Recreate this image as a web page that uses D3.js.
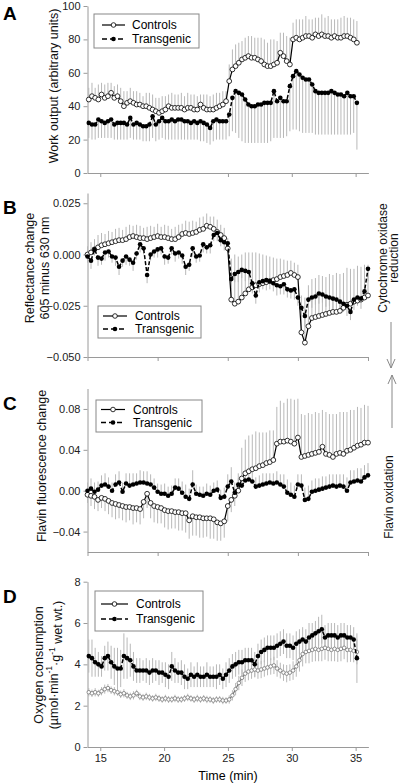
<!DOCTYPE html>
<html><head><meta charset="utf-8">
<script src="https://cdn.jsdelivr.net/npm/d3@7"></script>
<style>body{margin:0;background:#fff}svg{display:block}text{font-family:'Liberation Sans',Arial,sans-serif}</style>
</head><body><script>
// ---------- DATA ----------
// sampling grids (minutes)
const timesAD = d3.range(85).map(i => 14.1 + i * 0.25);
const timesBC = d3.range(81).map(i => 15 + i * 0.25);

// Panel A: work output (arbitrary units)
const aControls = [44,46,45,44,47,45,46,48,45,46, 43,40,42,43,42,41,41,40,40,39, 38,37,36,37,38,40,39,39,39,39, 38,39,39,38,38,41,39,38,38,38, 39,40,41,43,55,62,64,66,68,69, 70,69,69,68,67,65,64,64,65,66, 72,70,67,65,80,81,80,81,82,82, 81,83,82,83,82,82,81,82,81,81, 82,82,81,80,78];
const aControlsErr = [7,8,6,9,7,8,8,6,7,7, 8,9,7,8,7,8,7,6,8,9, 9,8,9,9,8,7,9,8,8,9, 8,9,8,9,8,6,8,9,8,9, 9,8,8,6,10,12,13,12,11,12, 12,13,12,13,14,15,14,16,15,13, 12,14,15,16,10,11,12,11,12,10, 11,10,11,12,11,12,11,10,11,12, 12,11,12,12,13];
const aTrans = [30,29,29,32,31,30,31,32,29,30, 30,30,29,33,29,30,29,28,28,29, 34,29,31,33,31,31,32,31,32,32, 31,31,30,31,30,31,30,29,27,31, 32,31,31,31,35,45,49,48,47,44, 41,40,40,41,41,42,42,42,49,43, 45,43,43,52,58,61,59,57,56,56, 53,49,48,48,48,48,49,48,47,47, 46,48,46,46,42];
const aTransErr = [9,9,9,11,10,9,10,11,9,10, 10,10,9,12,9,10,9,9,9,10, 13,10,11,12,11,11,12,11,12,12, 11,11,10,11,10,12,11,11,10,12, 12,11,11,11,13,20,25,27,28,26, 23,22,22,23,23,24,24,23,28,22, 24,22,21,27,32,35,34,33,32,32, 29,26,25,25,25,25,26,25,24,24, 23,25,23,22,28];

// Panel B: reflectance change 605-630 nm (x 10^-3)
const bControls = [0,1,2.5,3.5,4.5,5,5.5,6,6.5,7, 7,7.5,8.5,9,8.5,8,8,7.5,8,8.5, 9,8.5,8.5,8,7.5,7.5,8.5,10,10.5,10, 10.5,11,12,12.5,14,13.5,12.5,11,9.5,8, 3,-22,-24,-23,-21,-19,-17,-16,-15,-14.5, -14,-13.5,-13,-12.5,-12,-11,-10.5,-10,-9,-10, -11,-38,-43,-35,-31,-30.5,-30,-29.5,-29,-28.5, -28,-28,-27.5,-26,-24.5,-24,-23,-22.5,-22,-21, -20];
const bControlsErr = [4,5,5,6,6,5,6,5,6,6, 5,6,6,5,6,6,5,6,6,5, 6,5,6,6,5,6,6,5,6,6, 6,5,6,6,6,5,6,6,5,5, 5,20,24,22,21,20,18,17,16,15, 14,13,12,11,10,9,8,7,6,6, 6,18,22,20,19,19,20,19,18,19, 18,19,18,17,18,17,16,17,16,16, 15];
const bTrans = [-1,-3,2.5,-1.5,-2,1,1.5,-1,-1.5,-6, -3,-1,-2.5,-4,0.5,5,3,-10,0,1.5, 2.5,3,-1,-1.5,3,0.5,1,-0.5,-6,-5, 3,-1,-0.5,5,3.5,4.5,9.5,10.5,7,6, 5.5,-12,-9.5,-8.5,-7.5,-8,-8.5,-14,-20,-13.5, -13,-12.5,-13,-14,-15,-15.5,-14.5,-17,-17.5,-17, -21,-26,-30,-22,-21,-20.5,-19,-19.5,-20.5,-21, -21.5,-22,-23,-24,-25,-28,-22,-21,-21.5,-18, -7];
const bTransErr = [3,4,3,4,3,4,3,3,4,4, 3,4,3,4,3,4,3,4,3,3, 4,3,4,3,3,4,3,4,4,3, 4,3,3,4,3,4,3,4,3,4, 4,5,4,5,4,5,4,5,4,5, 4,5,4,4,5,4,5,4,4,5, 4,5,5,4,5,4,5,4,5,4, 5,4,5,4,5,4,5,4,5,4, 6];

// Panel C: flavin fluorescence change (x 10^-3); control errors signed (+ up, - down)
const cControls = [-4,-5,-6,-9,-7,-8,-10,-12,-13,-14, -15,-16,-16,-17,-17,-18,-11,-3,-12,-15, -16,-17,-19,-20,-20,-21,-21,-22,-22,-29, -25,-26,-26,-27,-27,-27,-28,-31,-32,-30, -15,-9,-5,0,12,17,19,21,22,24, 25,27,28,30,46,48,48,49,48,46, 52,33,34,35,36,37,38,43,36,35, 33,36,37,36,39,40,42,44,45,47, 47];
const cControlsErr = [-8,-10,-12,-11,-10,-12,-13,-14,-15,-13, -14,-15,-13,-16,-14,-15,-16,-14,-15,-16, -16,-15,-17,-18,-17,-16,-18,-17,-19,-18, -19,-18,-20,-19,-18,-20,-19,-18,-17,-16, -15,-12,-10,12,30,33,35,34,36,33, 32,30,31,29,36,40,38,41,42,43, 38,42,40,41,39,40,38,36,41,40, 42,39,40,41,38,39,37,38,36,37, 36];
const cTrans = [0,2,-1,1,5,6,4,0,6,8, -1,7,5,6,7,8,8,7,6,3, -1,-3,-3,-5,-3,3,2,-2,-6,-8, 6,-3,-4,-5,-3,-4,0,1,-7,-6, 4,9,-2,6,5,10,11,9,4,5, 6,7,8,7,8,6,4,-2,-4,-6, 6,5,-9,-8,-1,0,1,2,3,4, 5,4,5,4,0,8,9,10,9,13, 15];
const cTransErr = [8,10,9,8,10,11,9,8,10,11, 9,10,12,11,10,12,11,12,10,9, 8,9,10,9,8,9,10,11,12,10, 14,9,8,9,10,9,8,9,8,9, 12,14,10,11,9,10,11,10,9,10, 11,10,9,10,11,10,12,13,12,11, 10,11,12,13,11,12,11,12,11,12, 11,12,11,12,13,12,11,12,13,12, 12];

// Panel D: oxygen consumption (umol/min/g wet wt)
const dControls = [2.65,2.6,2.65,2.6,2.7,2.8,2.85,2.75,2.7,2.65, 2.55,2.6,2.5,2.45,2.5,2.6,2.45,2.4,2.45,2.4, 2.35,2.4,2.35,2.3,2.35,2.3,2.3,2.35,2.3,2.3, 2.35,2.4,2.35,2.3,2.35,2.3,2.35,2.3,2.3,2.25, 2.3,2.3,2.25,2.25,2.3,2.5,2.8,3.1,3.35,3.55, 3.65,3.7,3.75,3.7,3.75,3.8,3.85,3.9,3.95,3.8, 3.7,3.6,3.55,3.6,3.7,3.9,4.2,4.5,4.6,4.65, 4.7,4.75,4.7,4.75,4.8,4.75,4.7,4.75,4.7,4.75, 4.8,4.7,4.7,4.65,4.6];
const dControlsErr = [0.2,0.18,0.2,0.17,0.2,0.22,0.2,0.18,0.2,0.17, 0.18,0.2,0.17,0.18,0.2,0.17,0.18,0.17,0.18,0.17, 0.16,0.18,0.17,0.16,0.18,0.17,0.16,0.18,0.17,0.16, 0.17,0.18,0.16,0.17,0.18,0.16,0.17,0.18,0.16,0.17, 0.16,0.17,0.18,0.16,0.2,0.25,0.3,0.35,0.4,0.4, 0.42,0.4,0.38,0.4,0.42,0.4,0.38,0.4,0.42,0.4, 0.38,0.4,0.42,0.4,0.45,0.5,0.55,0.6,0.55,0.6, 0.58,0.6,0.55,0.6,0.58,0.6,0.55,0.6,0.58,0.6, 0.55,0.6,0.58,0.55,0.6];
const dTrans = [4.4,4.3,4.1,4.0,3.9,4.3,4.4,4.1,3.9,3.8, 3.8,4.4,4.3,4.2,3.9,3.7,3.7,3.7,3.7,3.6, 3.7,3.7,3.6,3.6,3.5,3.4,3.9,3.7,3.6,3.6, 3.4,3.3,3.5,3.4,3.5,3.4,3.4,3.5,3.4,3.4, 3.4,3.5,3.3,3.5,3.7,3.9,4.0,4.1,4.1,4.2, 4.2,4.2,4.0,4.4,4.6,4.7,4.8,4.8,4.8,4.9, 5.0,5.1,4.9,4.9,4.8,5.0,5.1,5.2,5.1,5.3, 5.4,5.5,5.6,5.7,5.3,5.4,5.4,5.4,5.3,5.4, 5.4,5.3,5.3,5.2,4.3];
const dTransErr = [0.8,0.9,0.7,0.6,0.5,0.6,0.7,0.8,0.9,1.0, 0.9,1.1,1.0,0.8,0.7,0.6,0.6,0.5,0.6,0.6, 0.6,0.5,0.6,0.5,0.6,0.6,0.7,0.6,0.5,0.6, 0.6,0.5,0.6,0.5,0.6,0.5,0.5,0.6,0.5,0.5, 0.6,0.5,0.5,0.6,0.6,0.6,0.6,0.6,0.6,0.6, 0.6,0.6,0.6,0.6,0.6,0.6,0.6,0.6,0.6,0.6, 0.6,0.6,0.6,0.6,0.6,0.6,0.6,0.6,0.6,0.7, 0.6,0.6,0.7,0.7,0.6,0.6,0.6,0.6,0.6,0.6, 0.6,0.6,0.6,0.6,1.2];

// tick labels
const aYTicks = [0,20,40,60,80,100];
const bYTicks = [-0.05,-0.025,0,0.025];
const cYTicks = [-0.04,0,0.04,0.08];
const dYTicks = [0,2,4,6,8];
const timeTicks = [15,20,25,30,35];
const aTimeTicks = [15,25,30,35];
const seriesNames = ['Controls','Transgenic'];

// ---------- DRAW ----------
const milli = a => a.map(v => v / 1000);
const svg = d3.select('body').append('svg').attr('width',401).attr('height',784);
const xAD = d3.scaleLinear().domain([14,36]).range([87.5,368.4]);
const xBC = d3.scaleLinear().domain([15,35]).range([87.5,368]);
const AX = '#9a9a9a', ERR = '#b8b8b8';

const panels = [
 {letter:'A', ly:19.5, x:xAD, t:timesAD, y:d3.scaleLinear().domain([0,100]).range([173,6]),
  yTicks:aYTicks, fmt:d3.format('d'), xTicks:aTimeTicks, xLab:false,
  ctrl:{v:aControls,e:aControlsErr,dir:'up'}, tg:{v:aTrans,e:aTransErr,dir:'down'},
  leg:{x:94,y:14,w:105,h:34,r1:25,r2:39,s1:102,s2:125,tx:132},
  titles:[{t:'Work output (arbitrary units)',x:53,y:86}]},
 {letter:'B', ly:213.5, x:xBC, t:timesBC, y:d3.scaleLinear().domain([-0.05,0.03]).range([357,193]),
  yTicks:bYTicks, fmt:d3.format('.3f'), xTicks:timeTicks, xLab:false,
  ctrl:{v:milli(bControls),e:milli(bControlsErr),dir:'up'}, tg:{v:milli(bTrans),e:milli(bTransErr),dir:'down'},
  leg:{x:98,y:306,w:103,h:32,r1:316,r2:329,s1:103,s2:127,tx:135},
  titles:[{t:'Reflectance change',x:29,y:268},{t:'605 minus 630 nm',x:44,y:268}]},
 {letter:'C', ly:409.5, x:xBC, t:timesBC, y:d3.scaleLinear().domain([-0.06,0.1]).range([552,388.5]),
  yTicks:cYTicks, fmt:d3.format('.2f'), xTicks:timeTicks, xLab:false,
  ctrl:{v:milli(cControls),e:milli(cControlsErr),dir:'signed'}, tg:{v:milli(cTrans),e:milli(cTransErr),dir:'up'},
  leg:{x:96,y:400,w:106,h:32,r1:409.5,r2:422.5,s1:101,s2:125,tx:133},
  titles:[{t:'Flavin fluorescence change',x:41,y:466}]},
 {letter:'D', ly:602.5, x:xAD, t:timesAD, y:d3.scaleLinear().domain([0,8]).range([747,581.7]),
  yTicks:dYTicks, fmt:d3.format('d'), xTicks:timeTicks, xLab:true,
  ctrl:{v:dControls,e:dControlsErr,dir:'both'}, tg:{v:dTrans,e:dTransErr,dir:'both'},
  leg:{x:95,y:591,w:108,h:40,r1:604,r2:619,s1:101,s2:128,tx:136},
  titles:[{t:'Oxygen consumption',x:38,y:665},{t:'UNITS',x:53,y:665}], small:true}
];

function errBounds(v,e,dir){
  if(dir==='up') return [v, v+e];
  if(dir==='down') return [v-e, v];
  if(dir==='both') return [v-e, v+e];
  return e >= 0 ? [v, v+e] : [v+e, v];
}

panels.forEach(p => {
  const g = svg.append('g');
  const x = p.x, y = p.y;
  const ya = g.append('g').attr('transform','translate(87.5,0)')
    .call(d3.axisLeft(y).tickValues(p.yTicks).tickFormat(p.fmt).tickSize(4).tickSizeOuter(0).tickPadding(3));
  const xa = g.append('g').attr('transform',`translate(0,${y.range()[0]})`)
    .call(d3.axisBottom(x).tickValues(p.xTicks).tickFormat(p.xLab ? d3.format('d') : '').tickSize(4).tickSizeOuter(0).tickPadding(3));
  [ya,xa].forEach(a => {
    a.select('.domain').attr('stroke',AX);
    a.selectAll('.tick line').attr('stroke',AX);
    a.selectAll('.tick text').attr('fill','#222').style('font-size','11px').style('font-family',"'Liberation Sans',Arial,sans-serif");
  });
  [p.ctrl, p.tg].forEach(s => {
    g.append('g').selectAll('line').data(s.v).join('line')
      .attr('x1',(d,i)=>x(p.t[i])).attr('x2',(d,i)=>x(p.t[i]))
      .attr('y1',(d,i)=>y(errBounds(d,s.e[i],s.dir)[0]))
      .attr('y2',(d,i)=>y(errBounds(d,s.e[i],s.dir)[1]))
      .attr('stroke',ERR).attr('stroke-width',1);
  });
  const line = d3.line().x((d,i)=>x(p.t[i])).y(d=>y(d));
  const cCol = p.small ? '#777' : '#000';
  g.append('path').datum(p.ctrl.v).attr('d',line).attr('fill','none').attr('stroke',cCol).attr('stroke-width',1.2);
  g.append('g').selectAll('circle').data(p.ctrl.v).join('circle')
    .attr('cx',(d,i)=>x(p.t[i])).attr('cy',d=>y(d)).attr('r',p.small?1.8:2.4)
    .attr('fill','#fff').attr('stroke',cCol).attr('stroke-width',0.8);
  g.append('path').datum(p.tg.v).attr('d',line).attr('fill','none').attr('stroke','#000').attr('stroke-width',1.5).attr('stroke-dasharray','4,2');
  g.append('g').selectAll('circle').data(p.tg.v).join('circle')
    .attr('cx',(d,i)=>x(p.t[i])).attr('cy',d=>y(d)).attr('r',2.3).attr('fill','#000');
  const L = p.leg;
  const lg = g.append('g');
  lg.append('rect').attr('x',L.x).attr('y',L.y).attr('width',L.w).attr('height',L.h).attr('fill','#fff').attr('stroke','#888').attr('stroke-width',1);
  const mid = (L.s1+L.s2)/2;
  lg.append('line').attr('x1',L.s1).attr('x2',L.s2).attr('y1',L.r1).attr('y2',L.r1).attr('stroke','#000').attr('stroke-width',1.2);
  lg.append('circle').attr('cx',mid).attr('cy',L.r1).attr('r',2.3).attr('fill','#fff').attr('stroke','#000').attr('stroke-width',0.8);
  lg.append('line').attr('x1',L.s1).attr('x2',L.s2).attr('y1',L.r2).attr('y2',L.r2).attr('stroke','#000').attr('stroke-width',1.4).attr('stroke-dasharray','5,3');
  lg.append('circle').attr('cx',mid).attr('cy',L.r2).attr('r',2.3).attr('fill','#000');
  [L.r1,L.r2].forEach((ry,k) => lg.append('text').attr('x',L.tx).attr('y',ry).attr('dy','0.35em')
    .style('font-size','12px').attr('fill','#000').text(seriesNames[k]));
  g.append('text').attr('x',3).attr('y',p.ly).style('font-size','19px').style('font-weight','bold').text(p.letter);
  p.titles.forEach(tt => {
    const t = g.append('text').attr('transform',`translate(${tt.x},${tt.y}) rotate(-90)`)
      .attr('text-anchor','middle').attr('dy','0.36em').style('font-size','12.5px').attr('fill','#111');
    if (tt.t === 'UNITS') {
      t.append('tspan').text('(\u00b5mol\u00b7min');
      t.append('tspan').attr('dy','-0.6em').style('font-size','8.5px').text('-1');
      t.append('tspan').attr('dy','0.6em').text('\u00b7g');
      t.append('tspan').attr('dy','-0.6em').style('font-size','8.5px').text('-1');
      t.append('tspan').attr('dy','0.6em').text(' wet wt.)');
    } else t.text(tt.t);
  });
});

svg.append('text').attr('x',228).attr('y',780).attr('text-anchor','middle').style('font-size','12.5px').text('Time (min)');

function vtext(txt,x,y){
  svg.append('text').attr('transform',`translate(${x},${y}) rotate(-90)`).attr('text-anchor','middle')
    .attr('dy','0.36em').style('font-size','12px').attr('fill','#111').text(txt);
}
vtext('Cytochrome oxidase',383,258);
vtext('reduction',393.5,258);
vtext('Flavin oxidation',389,497);
svg.append('line').attr('x1',391).attr('x2',391).attr('y1',322).attr('y2',368).attr('stroke','#888');
svg.append('path').attr('d','M387,359 L391,368 L395,359').attr('fill','none').attr('stroke','#888');
svg.append('line').attr('x1',392).attr('x2',392).attr('y1',428).attr('y2',375).attr('stroke','#888');
svg.append('path').attr('d','M388,384 L392,375 L396,384').attr('fill','none').attr('stroke','#888');
</script></body></html>
